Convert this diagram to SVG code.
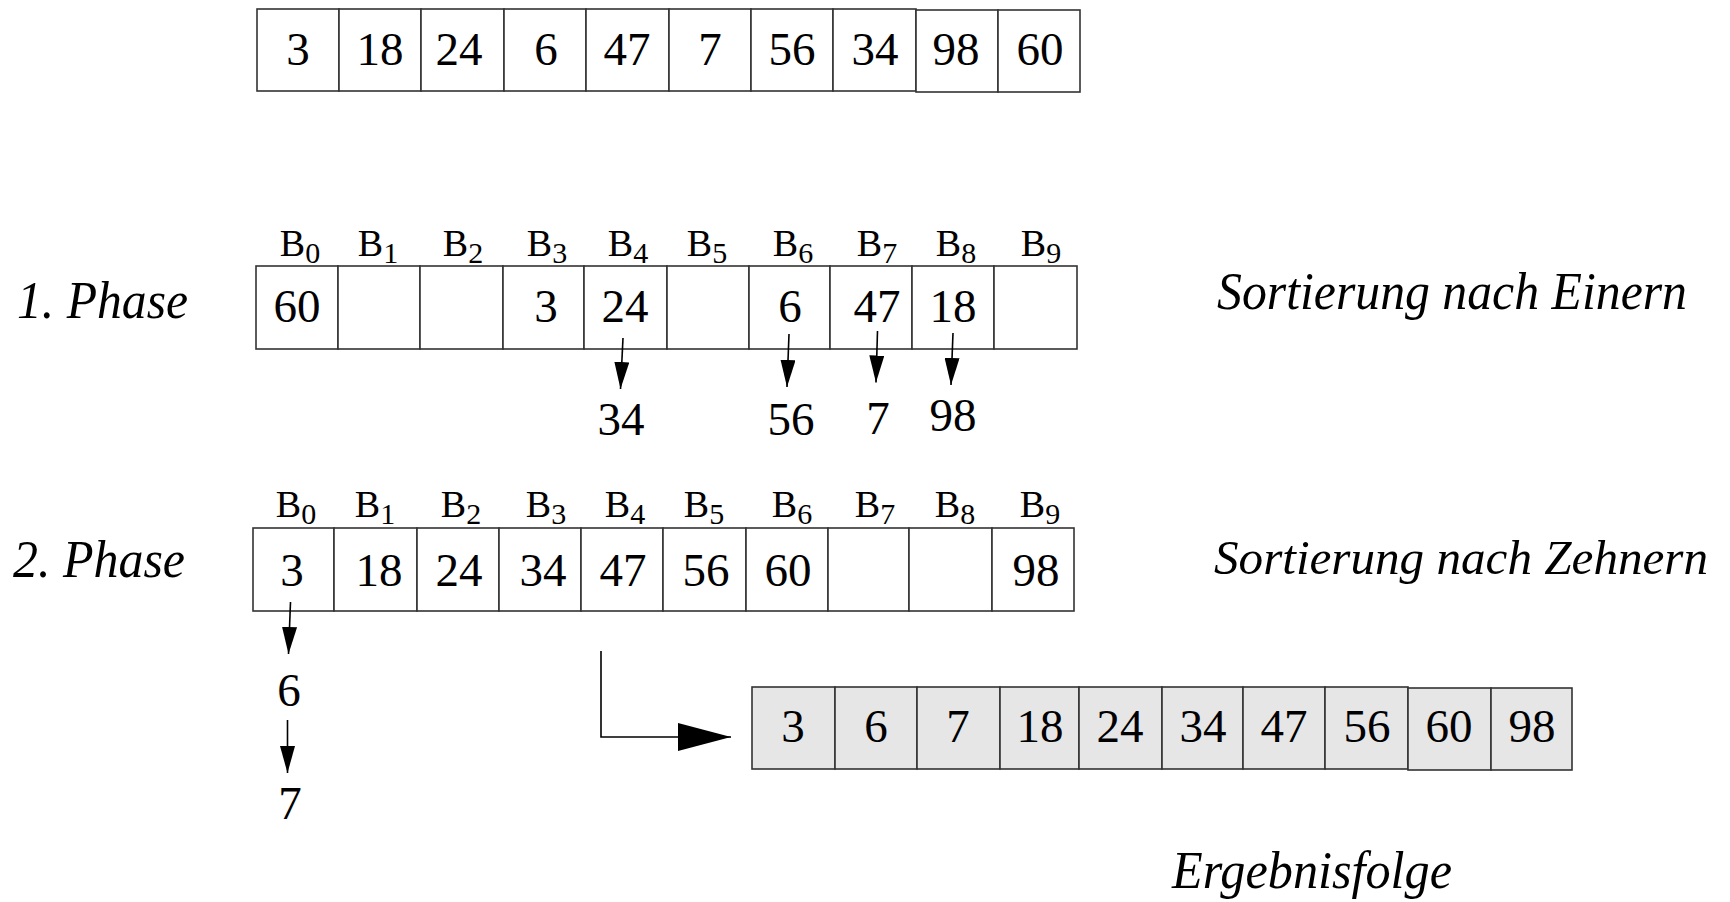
<svg xmlns="http://www.w3.org/2000/svg" width="1730" height="902" viewBox="0 0 1730 902">
  <style>
    .cell { fill: #ffffff; stroke: #333333; stroke-width: 1.6; }
    .res { fill: #e6e6e6; stroke: #333333; stroke-width: 1.6; }
    .num { font-family: "Liberation Serif", "Times New Roman", serif; font-size: 47px; fill: #000; text-anchor: middle; }
    .bl { font-family: "Liberation Serif", "Times New Roman", serif; font-size: 38px; fill: #000; text-anchor: middle; }
    .sub { font-size: 30px; }
    .lab { font-family: "Liberation Serif", "Times New Roman", serif; font-style: italic; font-size: 53px; fill: #000; }
    .lab2 { font-size: 48px; }
    .arr { fill: none; stroke: #000; stroke-width: 1.6; }
  </style>
  <defs>
    <marker id="head" markerUnits="userSpaceOnUse" markerWidth="27" markerHeight="15" refX="27" refY="7.5" orient="auto">
      <path d="M0,0 L27,7.5 L0,15 Z" fill="#000"/>
    </marker>
    <marker id="headBig" markerUnits="userSpaceOnUse" markerWidth="53" markerHeight="28" refX="53" refY="14" orient="auto">
      <path d="M0,0 L53,14 L0,28 Z" fill="#000"/>
    </marker>
  </defs>
  <rect width="1730" height="902" fill="#ffffff"/>

  <!-- input sequence -->
  <g id="input">
    <rect class="cell" x="257" y="9" width="82" height="82"/>
    <rect class="cell" x="339" y="9" width="82" height="82"/>
    <rect class="cell" x="421" y="9" width="83" height="82"/>
    <rect class="cell" x="504" y="9" width="82" height="82"/>
    <rect class="cell" x="586" y="9" width="83" height="82"/>
    <rect class="cell" x="669" y="9" width="82" height="82"/>
    <rect class="cell" x="751" y="9" width="82" height="82"/>
    <rect class="cell" x="833" y="9" width="83" height="82"/>
    <rect class="cell" x="916" y="10" width="82" height="82"/>
    <rect class="cell" x="998" y="10" width="82" height="82"/>
    <text class="num" x="298" y="65">3</text>
    <text class="num" x="380" y="65">18</text>
    <text class="num" x="459" y="65">24</text>
    <text class="num" x="546" y="65">6</text>
    <text class="num" x="627" y="65">47</text>
    <text class="num" x="710" y="65">7</text>
    <text class="num" x="792" y="65">56</text>
    <text class="num" x="875" y="65">34</text>
    <text class="num" x="956" y="65">98</text>
    <text class="num" x="1040" y="65">60</text>
  </g>

  <!-- phase 1: buckets by units digit -->
  <g id="phase1-label"><text class="lab" x="17" y="318" textLength="171" lengthAdjust="spacingAndGlyphs">1. Phase</text></g>
  <g id="phase1-buckets">
    <text class="bl" x="300" y="256">B<tspan class="sub" dy="7">0</tspan></text>
    <text class="bl" x="378" y="256">B<tspan class="sub" dy="7">1</tspan></text>
    <text class="bl" x="463" y="256">B<tspan class="sub" dy="7">2</tspan></text>
    <text class="bl" x="547" y="256">B<tspan class="sub" dy="7">3</tspan></text>
    <text class="bl" x="628" y="256">B<tspan class="sub" dy="7">4</tspan></text>
    <text class="bl" x="707" y="256">B<tspan class="sub" dy="7">5</tspan></text>
    <text class="bl" x="793" y="256">B<tspan class="sub" dy="7">6</tspan></text>
    <text class="bl" x="877" y="256">B<tspan class="sub" dy="7">7</tspan></text>
    <text class="bl" x="956" y="256">B<tspan class="sub" dy="7">8</tspan></text>
    <text class="bl" x="1041" y="256">B<tspan class="sub" dy="7">9</tspan></text>
    <rect class="cell" x="256" y="266" width="82" height="83"/>
    <rect class="cell" x="338" y="266" width="82" height="83"/>
    <rect class="cell" x="420" y="266" width="83" height="83"/>
    <rect class="cell" x="503" y="266" width="81" height="83"/>
    <rect class="cell" x="584" y="266" width="83" height="83"/>
    <rect class="cell" x="667" y="266" width="82" height="83"/>
    <rect class="cell" x="749" y="266" width="81" height="83"/>
    <rect class="cell" x="830" y="266" width="82" height="83"/>
    <rect class="cell" x="912" y="266" width="82" height="83"/>
    <rect class="cell" x="994" y="266" width="83" height="83"/>
    <text class="num" x="297" y="322">60</text>
    <text class="num" x="546" y="322">3</text>
    <text class="num" x="625" y="322">24</text>
    <text class="num" x="790" y="322">6</text>
    <text class="num" x="877" y="322">47</text>
    <text class="num" x="953" y="322">18</text>
  </g>
  <g id="phase1-overflow">
    <text class="num" x="621" y="435">34</text>
    <text class="num" x="791" y="435">56</text>
    <text class="num" x="878" y="434">7</text>
    <text class="num" x="953" y="431">98</text>
  </g>
  <g id="phase1-text"><text class="lab" x="1217" y="309" textLength="470" lengthAdjust="spacingAndGlyphs">Sortierung nach Einern</text></g>

  <!-- phase 2: buckets by tens digit -->
  <g id="phase2-label"><text class="lab" x="13" y="577" textLength="172" lengthAdjust="spacingAndGlyphs">2. Phase</text></g>
  <g id="phase2-buckets">
    <text class="bl" x="296" y="517">B<tspan class="sub" dy="7">0</tspan></text>
    <text class="bl" x="375" y="517">B<tspan class="sub" dy="7">1</tspan></text>
    <text class="bl" x="461" y="517">B<tspan class="sub" dy="7">2</tspan></text>
    <text class="bl" x="546" y="517">B<tspan class="sub" dy="7">3</tspan></text>
    <text class="bl" x="625" y="517">B<tspan class="sub" dy="7">4</tspan></text>
    <text class="bl" x="704" y="517">B<tspan class="sub" dy="7">5</tspan></text>
    <text class="bl" x="792" y="517">B<tspan class="sub" dy="7">6</tspan></text>
    <text class="bl" x="875" y="517">B<tspan class="sub" dy="7">7</tspan></text>
    <text class="bl" x="955" y="517">B<tspan class="sub" dy="7">8</tspan></text>
    <text class="bl" x="1040" y="517">B<tspan class="sub" dy="7">9</tspan></text>
    <rect class="cell" x="253" y="528" width="81" height="83"/>
    <rect class="cell" x="334" y="528" width="83" height="83"/>
    <rect class="cell" x="417" y="528" width="82" height="83"/>
    <rect class="cell" x="499" y="528" width="82" height="83"/>
    <rect class="cell" x="581" y="528" width="82" height="83"/>
    <rect class="cell" x="663" y="528" width="83" height="83"/>
    <rect class="cell" x="746" y="528" width="82" height="83"/>
    <rect class="cell" x="828" y="528" width="81" height="83"/>
    <rect class="cell" x="909" y="528" width="83" height="83"/>
    <rect class="cell" x="992" y="528" width="82" height="83"/>
    <text class="num" x="292" y="586">3</text>
    <text class="num" x="379" y="586">18</text>
    <text class="num" x="459" y="586">24</text>
    <text class="num" x="543" y="586">34</text>
    <text class="num" x="623" y="586">47</text>
    <text class="num" x="706" y="586">56</text>
    <text class="num" x="788" y="586">60</text>
    <text class="num" x="1036" y="586">98</text>
  </g>
  <g id="phase2-overflow">
    <text class="num" x="289" y="706">6</text>
    <text class="num" x="290" y="819">7</text>
  </g>
  <g id="phase2-text"><text class="lab lab2" x="1214" y="574" textLength="494" lengthAdjust="spacingAndGlyphs">Sortierung nach Zehnern</text></g>

  <!-- sorted output -->
  <g id="result">
    <rect class="res" x="752" y="687" width="83" height="82"/>
    <rect class="res" x="835" y="687" width="82" height="82"/>
    <rect class="res" x="917" y="687" width="83" height="82"/>
    <rect class="res" x="1000" y="687" width="79" height="82"/>
    <rect class="res" x="1079" y="687" width="83" height="82"/>
    <rect class="res" x="1162" y="687" width="81" height="82"/>
    <rect class="res" x="1243" y="687" width="82" height="82"/>
    <rect class="res" x="1325" y="687" width="83" height="82"/>
    <rect class="res" x="1408" y="688" width="83" height="82"/>
    <rect class="res" x="1491" y="688" width="81" height="82"/>
    <text class="num" x="793" y="742">3</text>
    <text class="num" x="876" y="742">6</text>
    <text class="num" x="958" y="742">7</text>
    <text class="num" x="1040" y="742">18</text>
    <text class="num" x="1120" y="742">24</text>
    <text class="num" x="1203" y="742">34</text>
    <text class="num" x="1284" y="742">47</text>
    <text class="num" x="1367" y="742">56</text>
    <text class="num" x="1449" y="742">60</text>
    <text class="num" x="1532" y="742">98</text>
  </g>
  <g id="result-text"><text class="lab" x="1172" y="888" textLength="280" lengthAdjust="spacingAndGlyphs">Ergebnisfolge</text></g>

  <!-- connectors -->
  <g id="connectors">
    <line class="arr" x1="623" y1="338" x2="620.5" y2="389" marker-end="url(#head)"/>
    <line class="arr" x1="789" y1="334" x2="787" y2="387" marker-end="url(#head)"/>
    <line class="arr" x1="877.5" y1="331" x2="876" y2="382.5" marker-end="url(#head)"/>
    <line class="arr" x1="953" y1="333" x2="951" y2="385" marker-end="url(#head)"/>
    <line class="arr" x1="290.5" y1="602" x2="288.5" y2="654" marker-end="url(#head)"/>
    <line class="arr" x1="287.5" y1="720" x2="287.5" y2="773" marker-end="url(#head)"/>
    <polyline class="arr" points="601,651 601,737 731,737" marker-end="url(#headBig)"/>
  </g>
</svg>
